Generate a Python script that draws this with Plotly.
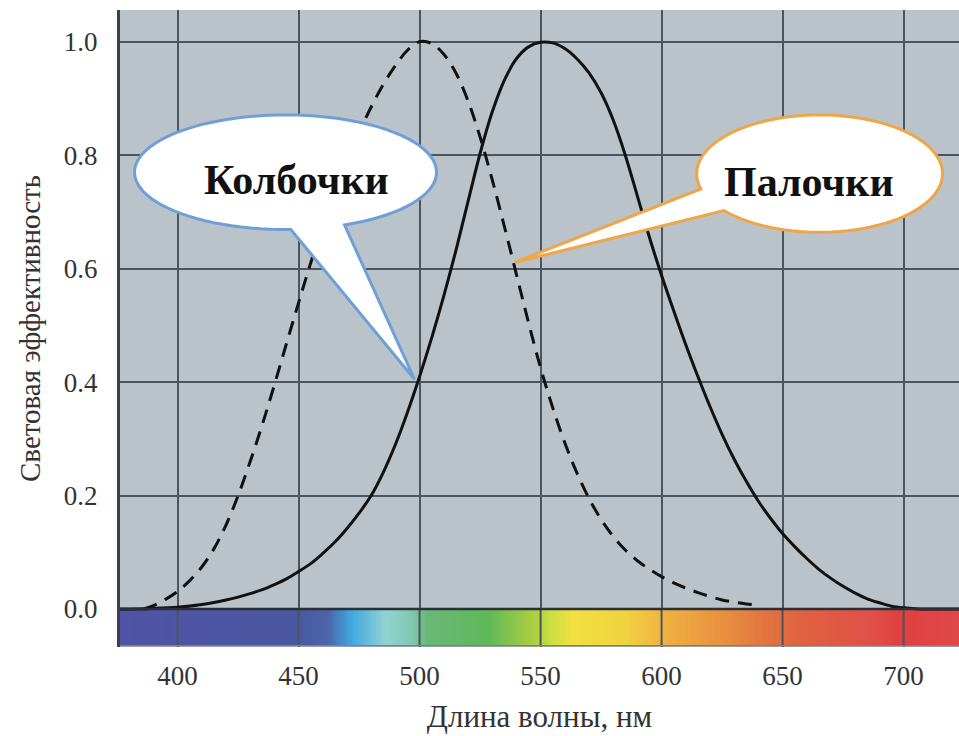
import numpy as np
import plotly.graph_objects as go

# ---------------- data ----------------
# Photopic (cones) luminous efficiency, solid line
cones_nm = [376, 390, 400, 410, 420, 425, 430, 435, 440, 445, 450, 455, 460, 465, 470, 475,
            480, 485, 490, 495, 500, 505, 510, 515, 520, 525, 530, 535, 540, 545, 550, 555,
            560, 565, 570, 575, 580, 585, 590, 595, 600, 605, 610, 615, 620, 625, 630, 635,
            640, 645, 650, 655, 660, 665, 670, 675, 680, 685, 690, 695, 700, 705, 710, 723]
cones_val = [0.0, 0.001, 0.003, 0.008, 0.016, 0.021, 0.027, 0.034, 0.043, 0.053, 0.066,
             0.08, 0.098, 0.118, 0.142, 0.169, 0.2, 0.241, 0.29, 0.347, 0.41, 0.478, 0.552,
             0.632, 0.718, 0.803, 0.876, 0.932, 0.97, 0.991, 0.999, 0.998, 0.988, 0.97,
             0.945, 0.91, 0.862, 0.8, 0.728, 0.655, 0.588, 0.526, 0.466, 0.41, 0.357, 0.308,
             0.264, 0.225, 0.19, 0.16, 0.133, 0.11, 0.089, 0.07, 0.054, 0.04, 0.028, 0.018,
             0.011, 0.005, 0.002, 0.0005, 0.0, 0.0]

# Scotopic (rods) luminous efficiency, dashed line
rods_nm = [386, 390, 395, 400, 405, 410, 415, 420, 425, 430, 435, 440, 445, 450, 455, 460,
           465, 470, 475, 480, 485, 490, 495, 500, 505, 510, 515, 520, 525, 530, 535, 540,
           545, 550, 555, 560, 565, 570, 575, 580, 585, 590, 595, 600, 605, 610, 615, 620,
           625, 630, 635, 640]
rods_val = [0.0, 0.006, 0.017, 0.031, 0.05, 0.074, 0.106, 0.148, 0.2, 0.26, 0.325, 0.395,
            0.468, 0.54, 0.61, 0.675, 0.735, 0.79, 0.84, 0.885, 0.925, 0.958, 0.985, 1.0,
            0.997, 0.978, 0.945, 0.896, 0.832, 0.757, 0.675, 0.59, 0.505, 0.425, 0.355,
            0.293, 0.24, 0.195, 0.158, 0.128, 0.104, 0.085, 0.07, 0.057, 0.046, 0.037,
            0.029, 0.022, 0.016, 0.012, 0.009, 0.007]

# Visible spectrum strip colours
spectrum_nm = [376, 450, 462, 472, 486, 497, 503, 528, 548, 554, 563, 584, 602, 625, 646,
               660, 687, 698, 723]
spectrum_colors = ["#5053a6", "#4a58a2", "#4a64aa", "#40a8e0", "#92d2d2", "#80c8b0",
                   "#6ab878", "#60b858", "#b0d040", "#c8e040", "#f2e040", "#f0d440",
                   "#f0b040", "#e89040", "#e07040", "#e06040", "#e05048", "#e04040",
                   "#e04848"]

x_ticks = [400, 450, 500, 550, 600, 650, 700]
y_ticks = [0.0, 0.2, 0.4, 0.6, 0.8, 1.0]
y_tick_text = ["0.0", "0.2", "0.4", "0.6", "0.8", "1.0"]

x_title = "Длина волны, нм"
y_title = "Световая эффективность"
cones_label = "Колбочки"
rods_label = "Палочки"

# ---------------- layout constants ----------------
X_RANGE = [376.2, 722.9]
BAR_BOTTOM = -0.065
Y_RANGE = [-0.067, 1.056]
GRID = "#4b555f"
SERIF = "Liberation Serif, Times New Roman, serif"
TXT = "#333333"

fig = go.Figure()

# spectrum strip as heatmap
lo, hi = spectrum_nm[0], spectrum_nm[-1]
cscale = [[(n - lo) / (hi - lo), c] for n, c in zip(spectrum_nm, spectrum_colors)]
edges = np.arange(lo, hi + 1, 1.0)
centers = (edges[:-1] + edges[1:]) / 2
fig.add_trace(go.Heatmap(
    x=edges, y=[BAR_BOTTOM, 0.0], z=[centers],
    colorscale=cscale, zmin=lo, zmax=hi, showscale=False, hoverinfo="skip",
))

fig.add_trace(go.Scatter(
    x=rods_nm, y=rods_val, mode="lines", line_shape="spline",
    line=dict(color="#111111", width=3, dash="14px,9px"), name=rods_label,
    showlegend=False,
))
fig.add_trace(go.Scatter(
    x=cones_nm, y=cones_val, mode="lines", line_shape="spline",
    line=dict(color="#111111", width=3), name=cones_label, showlegend=False,
))

shapes = []
# vertical grid lines over the spectrum strip
for t in x_ticks:
    shapes.append(dict(type="line", xref="x", yref="y", x0=t, x1=t, y0=BAR_BOTTOM, y1=0,
                       line=dict(color=GRID, width=2), layer="above"))
shapes.append(dict(type="line", xref="x", yref="y", x0=X_RANGE[0], x1=X_RANGE[1], y0=0, y1=0,
                   line=dict(color="#2a3036", width=2.5), layer="above"))
shapes.append(dict(type="line", xref="x", yref="y", x0=X_RANGE[0], x1=X_RANGE[1],
                   y0=BAR_BOTTOM, y1=BAR_BOTTOM,
                   line=dict(color="#7a8086", width=1.5), layer="above"))


def callout_path(cx, cy, rx, ry, gap_start, gap_end, tip):
    # ellipse outline (degrees) skipping the tail gap, then to the tip
    angles = np.radians(np.linspace(gap_end, gap_start + 360, 90))
    pts = [(cx + rx * np.cos(a), cy + ry * np.sin(a)) for a in angles]
    d = "M {:.3f},{:.4f} ".format(*pts[0])
    d += " ".join("L {:.3f},{:.4f}".format(px, py) for px, py in pts[1:])
    d += " L {:.3f},{:.4f} Z".format(*tip)
    return d


# cones callout
shapes.append(dict(type="path", xref="x", yref="y",
                   path=callout_path(444.6, 0.770, 62.4, 0.101, -88, -67, (497.9, 0.405)),
                   fillcolor="white", line=dict(color="#6f9fd6", width=3), layer="above"))
# rods callout
shapes.append(dict(type="path", xref="x", yref="y",
                   path=callout_path(665.3, 0.7675, 50.8, 0.1035, 195, 219, (539.3, 0.611)),
                   fillcolor="white", line=dict(color="#eea648", width=3), layer="above"))

annotations = [
    dict(x=449.0, y=0.757, xref="x", yref="y", text=f"<b>{cones_label}</b>", showarrow=False,
         font=dict(family=SERIF, size=42, color="#111111")),
    dict(x=661.0, y=0.752, xref="x", yref="y", text=f"<b>{rods_label}</b>", showarrow=False,
         font=dict(family=SERIF, size=42, color="#111111")),
]

fig.update_layout(
    width=959, height=736,
    margin=dict(l=120, r=0, t=10, b=89),
    paper_bgcolor="white",
    plot_bgcolor="#b9c3c9",
    shapes=shapes,
    annotations=annotations,
    showlegend=False,
    xaxis=dict(
        range=X_RANGE, tickvals=x_ticks, ticks="", showgrid=True, gridcolor=GRID,
        gridwidth=2, zeroline=False, showline=False, automargin=False,
        tickfont=dict(family=SERIF, size=27, color=TXT),
        title=dict(text=x_title, font=dict(family=SERIF, size=31, color=TXT)),
        ticklabelstandoff=10,
    ),
    yaxis=dict(
        range=Y_RANGE, tickvals=y_ticks, ticktext=y_tick_text, ticks="", showgrid=True,
        gridcolor=GRID, gridwidth=2, zeroline=False, showline=True, linecolor="#3b4148",
        linewidth=3, layer="above traces", automargin=False,
        tickfont=dict(family=SERIF, size=27, color=TXT),
        ticklabelstandoff=14,
        title=dict(text=y_title, font=dict(family=SERIF, size=29, color=TXT)),
    ),
)

fig.write_html(
    "out.html",
    config={"displayModeBar": False},
    post_script="document.body.style.margin='0';document.body.style.overflow='hidden';",
)
